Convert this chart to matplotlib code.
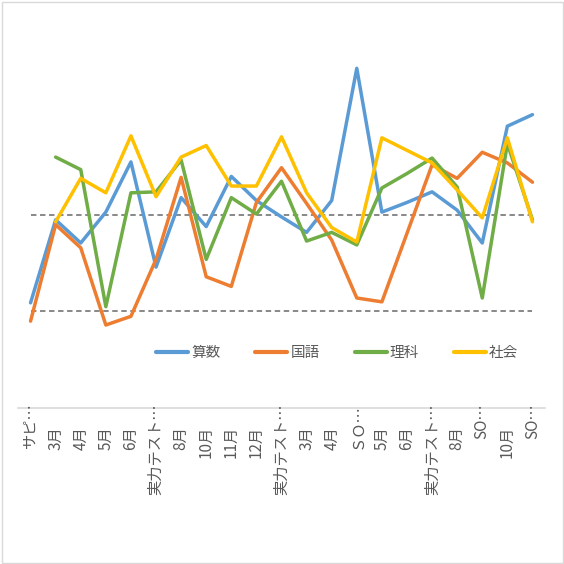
import matplotlib
matplotlib.use('Agg')
import matplotlib.pyplot as plt
from matplotlib.patches import Rectangle

plt.rcParams['font.family'] = ['Noto Sans CJK JP', 'DejaVu Sans']

# categories (x axis)
labels = ['サピ…', '3月', '4月', '5月', '6月', '実力テスト…', '8月', '10月', '11月', '12月',
          '実力テスト…', '3月', '4月', 'ＳＯ…', '5月', '6月', '実力テスト…', '8月', 'SO…', '10月', 'SO…']

# series values
sansu = [40.9, 49.5, 47.1, 50.3, 55.5, 44.6, 51.8, 48.8, 54.0, 51.5, 49.8,
         48.2, 51.5, 65.2, 50.3, 51.3, 52.4, 50.5, 47.1, 59.2, 60.4]
kokugo = [39.0, 49.0, 46.6, 38.6, 39.5, 45.4, 53.9, 43.6, 42.6, 51.3, 54.9,
          51.2, 47.4, 41.4, 41.0, 48.1, 55.2, 53.8, 56.5, 55.4, 53.4]
rika = [None, 56.0, 54.7, 40.5, 52.3, 52.4, 55.7, 45.4, 51.8, 50.1, 53.5,
        47.3, 48.2, 46.9, 52.8, 54.3, 55.9, 52.9, 41.4, 57.4, 49.5]
shakai = [None, 49.3, 53.8, 52.3, 58.2, 51.9, 56.0, 57.2, 53.0, 53.0, 58.1,
          52.3, 48.7, 47.2, 58.0, 56.7, 55.4, 52.6, 49.7, 58.0, 49.3]
ref_high = 50
ref_low = 40

series_names = ['算数', '国語', '理科', '社会']
colors = ['#5B9BD5', '#ED7D31', '#70AD47', '#FFC000']

fig = plt.figure(figsize=(5.64, 5.64), dpi=100)
ax = fig.add_axes([18/564, 156/564, 527/564, 386/564])

x = list(range(len(labels)))

# reference lines
ax.plot(x, [ref_high]*len(x), color='#7F7F7F', lw=1.3, ls=(0, (3, 2)), zorder=1)
ax.plot(x, [ref_low]*len(x), color='#7F7F7F', lw=1.3, ls=(0, (3, 2)), zorder=1)

for vals, name, c in zip([sansu, kokugo, rika, shakai], series_names, colors):
  xs = [i for i, v in zip(x, vals) if v is not None]
  ys = [v for v in vals if v is not None]
  ax.plot(xs, ys, color=c, lw=2.5, label=name, solid_joinstyle='round',
          solid_capstyle='round', zorder=2)

ax.set_xlim(-0.5, len(labels) - 0.5)
ax.set_ylim(30, 70)
ax.set_yticks([])
ax.set_xticks([])
for s in ['top', 'right', 'left']:
  ax.spines[s].set_visible(False)
ax.spines['bottom'].set_color('#D9D9D9')
ax.spines['bottom'].set_linewidth(1.2)

# rotated category labels
for i, lab in enumerate(labels):
  off = -13.0
  if lab.endswith('…'):
    off = 3.5
  ax.annotate(lab, xy=(i, 0), xycoords=ax.get_xaxis_transform(),
              xytext=(0, off), textcoords='offset points',
              rotation=90, ha='center', va='top', fontsize=11, color='#595959')

leg = fig.legend(loc='center', bbox_to_anchor=(337/564, 1 - 353/564), ncol=4,
                 frameon=False, fontsize=10.5, handlelength=2.2, handletextpad=0.2,
                 columnspacing=2.4, labelcolor='#595959')
for h in leg.get_lines():
  h.set_linewidth(3.0)

fig.add_artist(Rectangle((1.5/564, 1.5/564), 561/564, 561/564, transform=fig.transFigure,
                         fill=False, ec='#D9D9D9', lw=1.0))

fig.savefig('out.png', dpi=100)
